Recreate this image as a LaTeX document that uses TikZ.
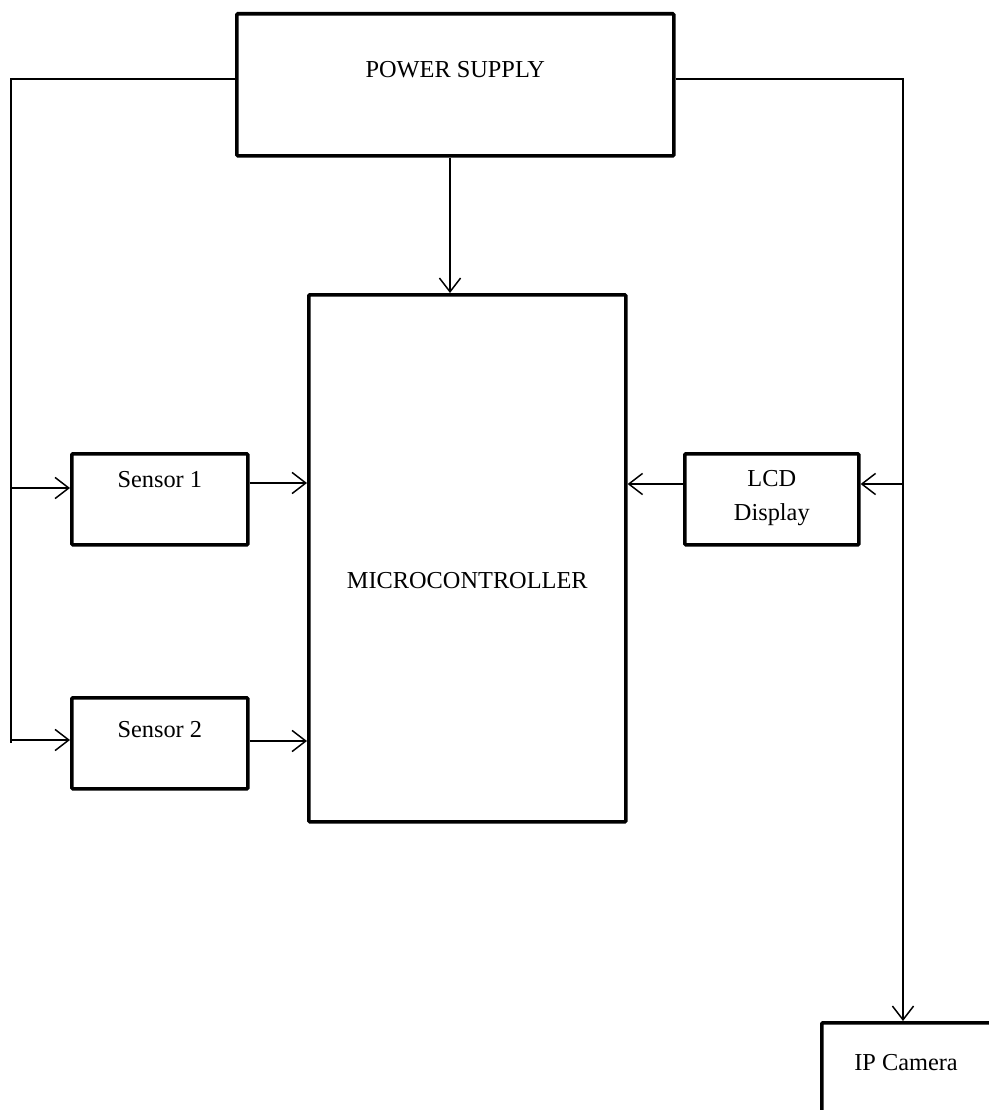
\documentclass[tikz,border=0pt]{standalone}
\usepackage{fontspec}
\setmainfont{Liberation Serif}
\usetikzlibrary{arrows.meta, calc, positioning}

\begin{document}
\begin{tikzpicture}[x=0.0166cm, y=-0.0166cm,
    font=\fontsize{11.5}{16}\selectfont,
    blk/.style={draw, line width=1.7pt, rounded corners=0.5pt, anchor=north west, inner sep=0pt},
    lbl/.style={align=center, inner sep=0pt},
    wire/.style={line width=0.7pt},
    arr/.style={wire, -{Straight Barb[length=6.5pt, width=10pt, line width=0.7pt]}}]
    \useasboundingbox (0,0) rectangle (988,1110);

    % Blocks
    \node[blk, minimum width=437*0.0166cm, minimum height=142*0.0166cm] (power) at (235,12) {};
    \node[blk, minimum width=317*0.0166cm, minimum height=527*0.0166cm] (mcu) at (307,293) {};
    \node[blk, minimum width=176*0.0166cm, minimum height=91*0.0166cm] (sens1) at (70,452) {};
    \node[blk, minimum width=176*0.0166cm, minimum height=91*0.0166cm] (sens2) at (70,696) {};
    \node[blk, minimum width=174*0.0166cm, minimum height=91*0.0166cm] (lcd) at (683,452) {};
    \node[blk, minimum width=200*0.0166cm, minimum height=150*0.0166cm] (cam) at (820,1021) {};

    % Labels
    \node[lbl] (powertxt) at ($(power.north)+(0,58)$) {POWER SUPPLY};
    \node[lbl] (mcutxt) at ($(mcu.center)+(0,22)$) {MICROCONTROLLER};
    \node[lbl] (sens1txt) at ($(sens1.north)+(0,28)$) {Sensor 1};
    \node[lbl] (sens2txt) at ($(sens2.north)+(0,34)$) {Sensor 2};
    \node[lbl] (lcdtxt) at ($(lcd.north)+(0,46)$) {LCD\\Display};
    \node[lbl] (camtxt) at (906,1063) {IP Camera};

    % Power rails
    \coordinate (railL) at (11,79);
    \coordinate (railR) at (903,79);
    \draw[wire] (power.west |- railL) -- (railL) -- (railL |- sens2.west);
    \draw[wire] (power.east |- railR) -- (railR) -- (railR |- 0,484);

    % Connections
    \draw[arr] (power.south -| 450,0) -- (mcu.north -| 450,0);
    \draw[arr] (railL |- 0,488) -- (sens1.west |- 0,488);
    \draw[arr] (railL |- 0,740) -- (sens2.west |- 0,740);
    \draw[arr] (sens1.east |- 0,483) -- (mcu.west |- 0,483);
    \draw[arr] (sens2.east |- 0,741) -- (mcu.west |- 0,741);
    \draw[arr] (railR |- 0,484) -- (lcd.east |- 0,484);
    \draw[arr] (lcd.west |- 0,484) -- (mcu.east |- 0,484);
    \draw[arr] (railR |- 0,484) -- (railR |- cam.north);
\end{tikzpicture}
\end{document}
